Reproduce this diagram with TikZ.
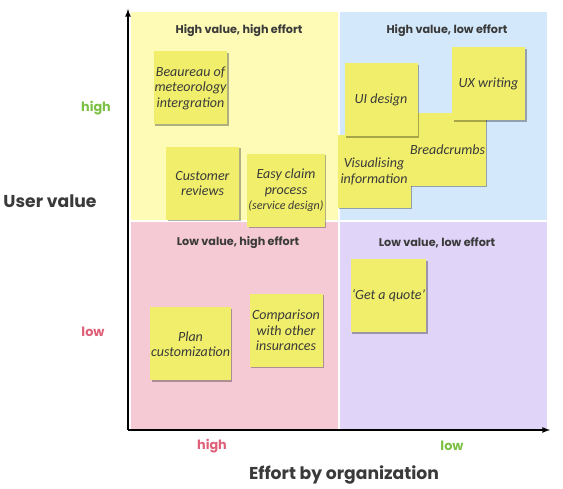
\documentclass[tikz,border=0pt]{standalone}
\usepackage{fontspec}
\setmainfont{Poppins}
\newfontfamily\handfont{Carlito}
\usepackage{tikz}
\usetikzlibrary{arrows,shadows}
\definecolor{qyellow}{HTML}{FDFBB6}
\definecolor{qblue}{HTML}{D3E8FA}
\definecolor{qpink}{HTML}{F5CAD4}
\definecolor{qpurple}{HTML}{E0D5F8}
\definecolor{sticky}{HTML}{F0EE6A}
\definecolor{ink}{HTML}{3A3A3A}
\definecolor{good}{HTML}{7CC043}
\definecolor{bad}{HTML}{DF5F78}
\tikzset{
  note/.style={fill=sticky, minimum width=73pt, minimum height=73pt, inner sep=1pt,
    align=center, text=ink, font=\handfont\itshape\fontsize{14}{15.5}\selectfont,
    drop shadow={shadow xshift=1.5pt, shadow yshift=-1.5pt, fill=black, opacity=0.3}},
  quadtitle/.style={text=ink, font=\bfseries\fontsize{11.2}{13}\selectfont},
  axistitle/.style={text=ink, font=\bfseries\fontsize{17.2}{20}\selectfont},
  level/.style={font=\bfseries\fontsize{12.8}{15}\selectfont}
}

\begin{document}
\begin{tikzpicture}[x=1pt, y=-1pt]
\useasboundingbox (0,0) rectangle (563,489);
%%%%% Quadrants %%%%%
\fill[qyellow] (131,12) rectangle (338,220);
\fill[qblue] (340,12) rectangle (547,220);
\fill[qpink] (131,222) rectangle (338,430);
\fill[qpurple] (340,222) rectangle (547,430);
\node[quadtitle] (hvhe) at (239,31) {High value, high effort};
\node[quadtitle] (hvle) at (447,31) {High value, low effort};
\node[quadtitle] (lvhe) at (238,243) {Low value, high effort};
\node[quadtitle] (lvle) at (437,243) {Low value, low effort};
%%%%% Axis %%%%%
\coordinate (O) at (128,430);
\coordinate (ytop) at (128,9);
\coordinate (xend) at (550,430);
\draw[-latex, line width=1.6pt] (O) -- (ytop);
\draw[-latex, line width=1.6pt] (O) -- (xend);
\node[axistitle] (uval) at (50,201) {User value};
\node[level, text=good] (yhigh) at (96,108) {high};
\node[level, text=bad] (ylow) at (93,332) {low};
\node[axistitle] (eff) at (344,475) {Effort by organization};
\node[level, text=bad] (xhigh) at (212,446) {high};
\node[level, text=good] (xlow) at (452,446) {low};
%%%%% Sticky notes %%%%%
\foreach \n/\x/\y/\t in {bmi/190.5/88/{Beaureau of\\meteorology\\intergration},
    rev/202.5/183.5/{Customer\\reviews},
    claim/286/190.5/{Easy claim\\process\\{\fontsize{12}{13.5}\selectfont(service design)}},
    vis/374/171.5/{Visualising\\information},
    crumbs/447.5/149.5/{Breadcrumbs},
    ui/381/100/{UI design},
    ux/488.5/84/{UX writing},
    plan/190.5/344/{Plan\\customization},
    comp/286/330.5/{Comparison\\with other\\insurances},
    quote/388.5/296/{‘Get a quote’}}{
\node[note] (\n) at (\x,\y) {\t};
}
\end{tikzpicture}
\end{document}
